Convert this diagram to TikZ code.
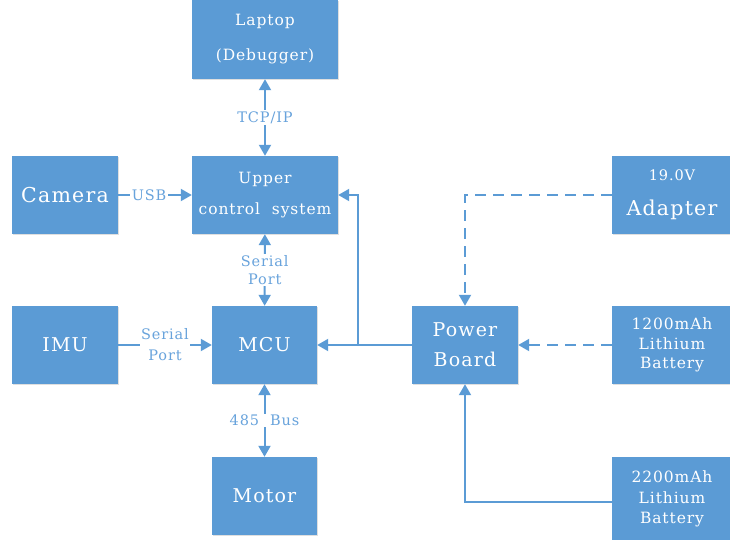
\documentclass[tikz,border=0pt]{standalone}
\usepackage{fontspec}
\setmainfont{DejaVu Serif}[LetterSpace=6]
\usetikzlibrary{arrows.meta,shadows}
\definecolor{boxblue}{RGB}{91,155,213}
\definecolor{lblblue}{RGB}{104,163,220}
\begin{document}
\begin{tikzpicture}[x=1pt,y=-1pt,
  blk/.style={fill=boxblue,draw=none,text=white,align=center,inner sep=2pt,
    drop shadow={shadow xshift=1.2pt,shadow yshift=-1.2pt,opacity=0.25,fill=gray}},
  lnk/.style={draw=boxblue,line width=2pt,-{Triangle[length=11pt,width=12pt]}},
  both/.style={lnk,{Triangle[length=11pt,width=12pt]}-{Triangle[length=11pt,width=12pt]}},
  dsh/.style={lnk,dash pattern=on 11pt off 7pt},
  lbl/.style={fill=white,text=lblblue,align=center,inner sep=1.5pt,font=\fontsize{14.5}{17}\selectfont}]
\useasboundingbox (0,0) rectangle (730,539);
% boxes
\node[blk,minimum width=146pt,minimum height=79pt,font=\fontsize{15.5}{35}\selectfont] (lap) at (265,39.5) {Laptop\\(Debugger)};
\node[blk,minimum width=146pt,minimum height=78pt,font=\fontsize{15.5}{31}\selectfont] (up) at (265,195) {Upper\\control\ \ system};
\node[blk,minimum width=106pt,minimum height=78pt,font=\fontsize{20.5}{22}\selectfont] (cam) at (65,195) {Camera};
\node[blk,minimum width=106pt,minimum height=78pt,font=\fontsize{19}{22}\selectfont] (imu) at (65,345) {IMU};
\node[blk,minimum width=105pt,minimum height=78pt,font=\fontsize{19}{22}\selectfont] (mcu) at (264.5,345) {MCU};
\node[blk,minimum width=105pt,minimum height=78pt,font=\fontsize{19}{22}\selectfont] (mot) at (264.5,496) {Motor};
\node[blk,minimum width=106pt,minimum height=78pt,font=\fontsize{19}{30}\selectfont] (pb) at (465,345) {Power\\Board};
\node[blk,minimum width=120pt,minimum height=78pt,font=\fontsize{20.5}{35}\selectfont] (ad) at (672,195) {{\fontsize{14.5}{16}\selectfont 19.0V}\\Adapter};
\node[blk,minimum width=120pt,minimum height=78pt,font=\fontsize{15.5}{19.5}\selectfont] (b1) at (672,345) {1200mAh\\Lithium\\Battery};
\node[blk,minimum width=120pt,minimum height=84pt,font=\fontsize{15.5}{20.5}\selectfont] (b2) at (672,499) {2200mAh\\Lithium\\Battery};
% connectors
\draw[both] (lap) -- node[lbl]{TCP/IP} (up);
\draw[lnk] (cam) -- node[lbl,pos=0.42]{USB} (up);
\draw[both] (up) -- node[lbl,font=\fontsize{14.5}{17.5}\selectfont]{Serial\\Port} (mcu);
\draw[lnk] (imu) -- node[lbl,pos=0.5,font=\fontsize{14.5}{21}\selectfont]{Serial\\Port} (mcu);
\draw[both] (mcu) -- node[lbl]{485\ \ Bus} (mot);
\coordinate (br) at (358,345);
\draw[lnk] (pb) -- (mcu);
\draw[lnk] (br) |- (up.east);
\draw[dsh] (ad.west) -| (pb.north);
\draw[dsh] (b1) -- (pb);
\draw[lnk] ([yshift=-3pt]b2.west) -| (pb.south);
\end{tikzpicture}
\end{document}
